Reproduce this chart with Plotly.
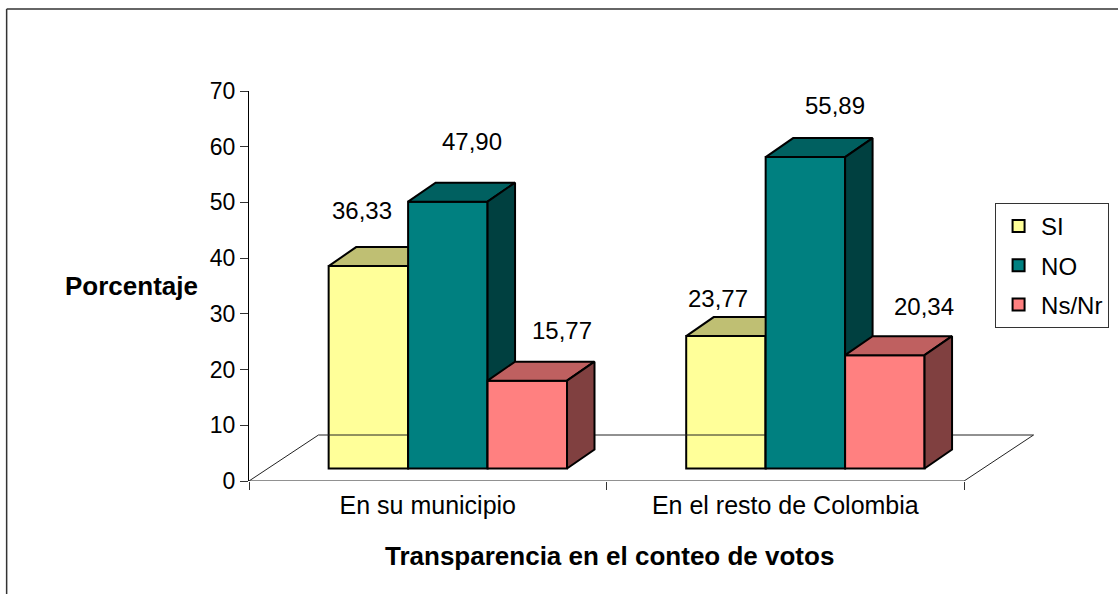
import plotly.graph_objects as go

categories = ["En su municipio", "En el resto de Colombia"]
series_names = ["SI", "NO", "Ns/Nr"]
si_values = [36.33, 23.77]
no_values = [47.90, 55.89]
nsnr_values = [15.77, 20.34]
y_ticks = [0, 10, 20, 30, 40, 50, 60, 70]

front_colors = ["#FFFF99", "#008080", "#FF8080"]
top_colors = ["#BFBF73", "#006060", "#BF6060"]
side_colors = ["#808050", "#004040", "#804040"]

W, H = 1118, 594
L, R0, T, B = 248.5, 964.0, 91.0, 481.0
PX_X = (R0 - L) / 2
PX_Y = (B - T) / 70
X_MAX = (W - L) / PX_X
R = W
DEPTH_X, DEPTH_Y = 27.5 / PX_X, 19 / PX_Y
FLOOR_X, FLOOR_Y = 69.5 / PX_X, 46 / PX_Y
LIFT = 12.5 / PX_Y
BAR_W = 79.5 / PX_X
GROUP_START = 79.7 / PX_X
FONT = "Liberation Sans, Arial, sans-serif"
FS_TICK, FS_LABEL, FS_CAT, FS_TITLE, FS_LEG = 23, 24, 25, 26, 24


def paper_x(px):
    return (px - L) / (R - L)


def paper_y(px):
    return (B - px) / (B - T)


# per-label pixel nudges (labels were hand-placed in the original)
label_shift = {
    "SI": [(-6, 56), (-8, 38)],
    "NO": [(24, 60), (30, 52)],
    "Ns/Nr": [(35, 50), (39, 49)],
}

fig = go.Figure()

# floor of the 3-D plot
fig.add_trace(go.Scatter(
    x=[0, FLOOR_X, 2 + FLOOR_X, 2, 0], y=[0, FLOOR_Y, FLOOR_Y, 0, 0],
    mode="lines", line=dict(color="#222222", width=1), cliponaxis=False,
    showlegend=False, hoverinfo="skip", xaxis="x", yaxis="y"))

annotations = []
for s, (name, vals) in enumerate(zip(series_names, [si_values, no_values, nsnr_values])):
    ax = "x" if s == 0 else f"x{s+1}"
    ay = "y" if s == 0 else f"y{s+1}"
    lefts = [g + GROUP_START + s * BAR_W for g in range(len(vals))]
    fig.add_trace(go.Bar(
        x=[l + BAR_W / 2 for l in lefts], y=vals, base=[LIFT] * len(vals), width=BAR_W,
        name=name, marker=dict(color=front_colors[s], line=dict(color="#000000", width=2)),
        xaxis=ax, yaxis=ay, legendgroup=name))
    for l, v, (dx, dy) in zip(lefts, vals, label_shift[name]):
        t = v + LIFT
        r = l + BAR_W
        # top face
        fig.add_trace(go.Scatter(
            x=[l, l + DEPTH_X, r + DEPTH_X, r, l], y=[t, t + DEPTH_Y, t + DEPTH_Y, t, t],
            mode="lines", fill="toself", fillcolor=top_colors[s],
            line=dict(color="#000000", width=2), showlegend=False, hoverinfo="skip",
            xaxis=ax, yaxis=ay))
        # side face
        fig.add_trace(go.Scatter(
            x=[r, r + DEPTH_X, r + DEPTH_X, r, r],
            y=[t, t + DEPTH_Y, LIFT + DEPTH_Y, LIFT, t],
            mode="lines", fill="toself", fillcolor=side_colors[s],
            line=dict(color="#000000", width=2), showlegend=False, hoverinfo="skip",
            xaxis=ax, yaxis=ay))
        annotations.append(dict(
            x=l + BAR_W / 2, y=t, xref="x", yref="y", text=f"{v:.2f}".replace(".", ","),
            showarrow=False, xshift=dx, yshift=dy, font=dict(size=FS_LABEL, color="#000000", family=FONT)))

annotations.append(dict(
    text="<b>Porcentaje</b>", xref="paper", yref="paper",
    x=paper_x(131), y=paper_y(286), xanchor="center", yanchor="middle", showarrow=False,
    font=dict(size=FS_TITLE, color="#000000", family=FONT)))
annotations.append(dict(
    text="<b>Transparencia en el conteo de votos</b>", xref="paper", yref="paper",
    x=paper_x(609), y=paper_y(556), xanchor="center", yanchor="middle", showarrow=False,
    font=dict(size=FS_TITLE, color="#000000", family=FONT)))

frame_x0 = paper_x(6)
frame_y0 = paper_y(9)
shapes = [
    dict(type="line", xref="paper", yref="paper", x0=frame_x0, x1=paper_x(W),
         y0=frame_y0, y1=frame_y0, line=dict(color="#333333", width=1.5)),
    dict(type="line", xref="paper", yref="paper", x0=frame_x0, x1=frame_x0,
         y0=frame_y0, y1=paper_y(H), line=dict(color="#333333", width=1.5)),
]

hidden = dict(visible=False, range=[0, X_MAX], fixedrange=True)
hidden_y = dict(visible=False, range=[0, 70], fixedrange=True)

fig.update_layout(
    width=W, height=H, autosize=False,
    margin=dict(l=L, r=0, t=T, b=H - B),
    paper_bgcolor="#FFFFFF", plot_bgcolor="rgba(0,0,0,0)",
    font=dict(family=FONT, size=FS_TICK, color="#000000"),
    barmode="overlay",
    xaxis=dict(
        range=[0, X_MAX], tickvals=[0.5, 1.5], ticktext=categories, ticks="",
        showline=False, showgrid=False, zeroline=False,
        tickfont=dict(size=FS_CAT), fixedrange=True, ticklabelstandoff=7,
        minor=dict(tickvals=[0, 1, 2], ticks="outside", ticklen=8, tickcolor="#333333", tickwidth=1, showgrid=False),
    ),
    yaxis=dict(
        range=[0, 70], tickvals=y_ticks, ticks="outside", ticklen=8, tickcolor="#333333", tickwidth=1,
        showline=True, linecolor="#000000", linewidth=1, showgrid=False, zeroline=False,
        tickfont=dict(size=FS_TICK), fixedrange=True,
    ),
    xaxis2=dict(overlaying="x", anchor="y2", **hidden),
    yaxis2=dict(overlaying="y", anchor="x2", **hidden_y),
    xaxis3=dict(overlaying="x", anchor="y3", **hidden),
    yaxis3=dict(overlaying="y", anchor="x3", **hidden_y),
    legend=dict(
        x=paper_x(995), y=paper_y(203), xanchor="left", yanchor="top",
        bordercolor="#333333", borderwidth=1, bgcolor="#FFFFFF", itemwidth=35,
        font=dict(size=FS_LEG), tracegroupgap=5, traceorder="grouped", itemclick=False, itemdoubleclick=False,
    ),
    annotations=annotations,
    shapes=shapes,
)

fig.write_html(
    "out.html", config={"displayModeBar": False},
    post_script="document.body.style.margin='0';document.body.style.overflow='hidden';",
)
